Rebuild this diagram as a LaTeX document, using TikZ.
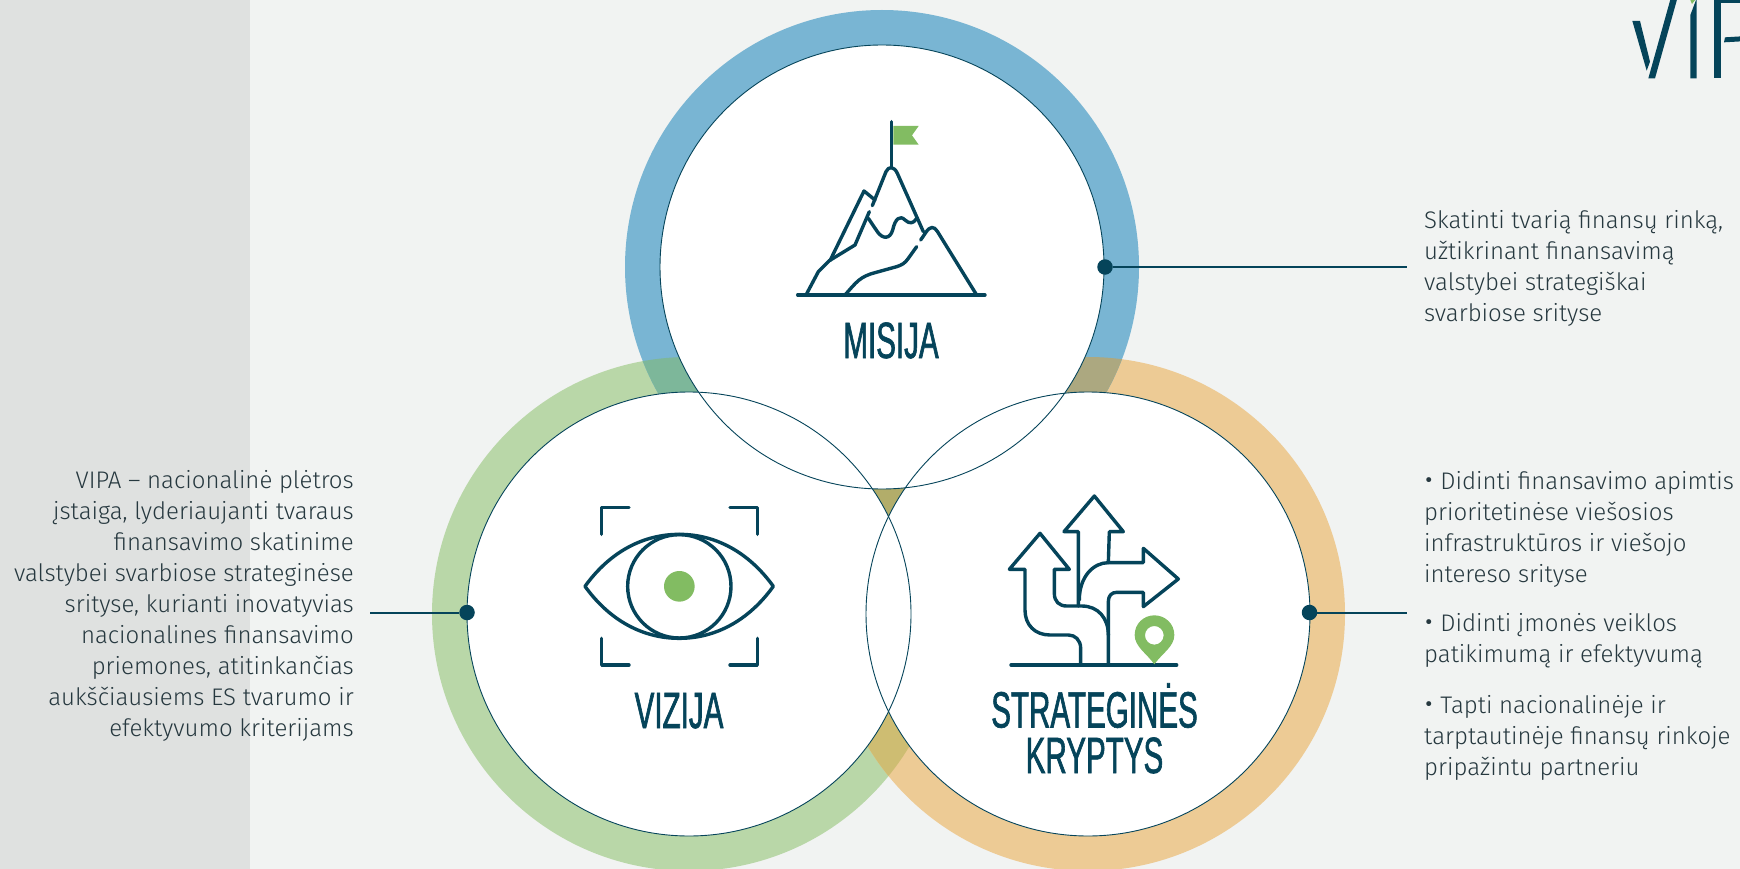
\documentclass[tikz,border=0pt]{standalone}
\usepackage{fontspec}
\setmainfont{Fira Sans Light}
\newfontfamily\condfont[FakeStretch=0.58,FakeBold=1.2]{Liberation Sans}
\definecolor{ink}{HTML}{05445A}
\definecolor{txt}{HTML}{26383F}
\definecolor{bgc}{HTML}{F1F3F2}
\definecolor{panel}{HTML}{DFE1E0}
\definecolor{ringb}{HTML}{79B5D3}
\definecolor{ringg}{HTML}{B9D7A8}
\definecolor{ringo}{HTML}{EDCB95}
\definecolor{ovbg}{HTML}{7DB79A}
\definecolor{ovbo}{HTML}{ACA880}
\definecolor{ovgo}{HTML}{CEBD72}
\definecolor{ovall}{HTML}{B2AD6A}
\definecolor{accent}{HTML}{82BC62}
\tikzset{
  x=1pt,y=-1pt,
  icon/.style={draw=ink,line width=3.4pt,line cap=round,line join=round},
  thin circle/.style={draw=ink,line width=0.9pt},
  dotnode/.style={circle,fill=ink,inner sep=0pt,minimum size=15.5pt},
  lead/.style={draw=ink,line width=2pt},
  title/.style={text=ink,font=\condfont\fontsize{51}{45.5}\selectfont,align=center,anchor=base,inner sep=0pt},
  bodyr/.style={text=txt,font=\fontsize{24}{31}\selectfont,align=left,anchor=base west,inner sep=0pt},
  bodyl/.style={text=txt,font=\fontsize{24}{31}\selectfont,align=right,anchor=base east,inner sep=0pt},
}
\newcommand{\topdisc}[1]{(882,267) circle[radius=#1]}
\newcommand{\leftdisc}[1]{(689,614) circle[radius=#1]}
\newcommand{\rightdisc}[1]{(1088,614) circle[radius=#1]}
\newcommand{\bul}{\raisebox{-2pt}{\fontsize{33}{31}\selectfont •}}
\begin{document}
\begin{tikzpicture}
\useasboundingbox (0,0) rectangle (1740,869);
\clip (0,0) rectangle (1740,869);
\fill[bgc] (0,0) rectangle (1740,869);
\fill[panel] (0,0) rectangle (250,869);
% outer rings
\fill[ringg] \leftdisc{257};
\fill[ringo] \rightdisc{257};
\fill[ringb] \topdisc{257};
\begin{scope}\clip \topdisc{257}; \fill[ovbg] \leftdisc{257}; \fill[ovbo] \rightdisc{257}; \end{scope}
\begin{scope}\clip \leftdisc{257}; \fill[ovgo] \rightdisc{257}; \end{scope}
\begin{scope}\clip \topdisc{257}; \clip \leftdisc{257}; \fill[ovall] \rightdisc{257}; \end{scope}
% white discs
\fill[white] \topdisc{222};
\fill[white] \leftdisc{222};
\fill[white] \rightdisc{222};
\draw[thin circle] \topdisc{222};
\draw[thin circle] \leftdisc{222};
\draw[thin circle] \rightdisc{222};
% logo
\begin{scope}[shift={(1600,0)},scale=1/3]
\fill[ink] (97,63)--(120,63)--(150,185)--(140,212)--cycle;
\fill[ink] (212,-5)--(232,-5)--(165,235)--(145,235)--cycle;
\fill[ink] (271,45)--(290,-5)--(290,235)--(271,235)--cycle;
\fill[accent] (270,-2)--(287,-2)--(276,12)--cycle;
\fill[ink] (343,-5)--(363,-5)--(363,235)--(343,235)--cycle;
\fill[ink] (363,-5)--(425,-5)--(425,9)--(363,9)--cycle;
\fill[ink] (375,112)--(425,109)--(425,124)--(372,127)--cycle;
\end{scope}
% mountain
\begin{scope}[shift={(760,90)},scale=1/3]
\fill[accent] (400,108)--(476,108)--(456,136)--(476,164)--(400,164)--cycle;
\draw[icon] (394,95)--(394,230);
\draw[icon] (337,347)--(378,245) .. controls (386,228) and (402,228) .. (412,250)--(490,425);
\draw[icon] (210,512)--(312,303)--(345,330);
\draw[icon] (328,365)--(285,465)--(208,512)--(175,545)--(138,615);
\draw[icon] (325,385)--(352,425) .. controls (368,448) and (390,448) .. (398,420) .. controls (406,385) and (420,375) .. (435,390) .. controls (448,402) and (460,402) .. (470,385);
\draw[icon] (482,450)--(497,428) .. controls (510,408) and (522,408) .. (532,424)--(650,615);
\draw[icon] (470,470)--(445,505) .. controls (435,520) and (425,525) .. (410,530)--(345,548) .. controls (300,560) and (290,575) .. (255,615);
\draw[icon] (113,615)--(675,615);
\end{scope}
% eye
\begin{scope}[shift={(560,480)},scale=1/3]
\fill[accent] (358,319) circle[radius=46];
\draw[icon] (358,319) circle[radius=155];
\draw[icon] (75,319) .. controls (150,215) and (250,163) .. (358,163) .. controls (465,163) and (565,215) .. (640,319) .. controls (565,423) and (465,475) .. (358,475) .. controls (250,475) and (150,423) .. (75,319) -- cycle;
\draw[icon] (125,163)--(125,82)--(207,82);
\draw[icon] (510,82)--(592,82)--(592,163);
\draw[icon] (125,475)--(125,555)--(207,555);
\draw[icon] (510,555)--(592,555)--(592,475);
\end{scope}
% arrows
\begin{scope}[shift={(970,480)},scale=1/3]
\draw[icon] (332,553)--(332,505) .. controls (332,480) and (315,465) .. (295,465)--(240,465) .. controls (195,465) and (165,435) .. (165,390)--(165,268)--(118,268)--(210,160)--(298,268)--(253,268)--(253,340) .. controls (253,365) and (268,378) .. (290,378)--(335,378) .. controls (385,378) and (415,415) .. (415,465)--(415,553);
\draw[icon] (325,378)--(325,155)--(282,155)--(373,48)--(460,155)--(418,155)--(415,248);
\draw[icon] (328,360) .. controls (328,290) and (370,248) .. (415,248)--(520,248)--(520,205)--(625,297)--(520,380)--(520,337)--(440,337) .. controls (425,337) and (415,347) .. (415,365)--(415,465);
\draw[icon] (123,555)--(620,555);
\fill[accent,even odd rule] (553,553) .. controls (530,520) and (494,500) .. (494,465) .. controls (494,430) and (522,406) .. (553,406) .. controls (584,406) and (613,430) .. (613,465) .. controls (613,500) and (576,520) .. (553,553) -- cycle (553,466) circle[radius=28];
\end{scope}
% titles
\node[title] (misija) at (891,358) {MISIJA};
\node[title] (vizija) at (679,728) {VIZIJA};
\node[title] (strat) at (1094.5,773) {STRATEGINĖS\\KRYPTYS};
% connectors
\node[dotnode] (dt) at (1105,267) {};
\node[dotnode] (dl) at (467,612.5) {};
\node[dotnode] (dr) at (1309.5,612.5) {};
\coordinate (et) at (1407,267);
\coordinate (el) at (369.5,612.5);
\coordinate (er) at (1407,612.5);
\draw[lead] (dt) -- (et);
\draw[lead] (dl) -- (el);
\draw[lead] (dr) -- (er);
% texts
\node[bodyr] (t1) at (1424,321) {Skatinti tvarią finansų rinką,\\užtikrinant finansavimą\\valstybei strategiškai\\svarbiose srityse};
\node[bodyl] (t2) at (354,736) {VIPA – nacionalinė plėtros\\įstaiga, lyderiaujanti tvaraus\\finansavimo skatinime\\valstybei svarbiose strateginėse\\srityse, kurianti inovatyvias\\nacionalines finansavimo\\priemones, atitinkančias\\aukščiausiems ES tvarumo ir\\efektyvumo kriterijams};
\node[bodyr] (t3) at (1424,582) {\bul{} Didinti finansavimo apimtis\\prioritetinėse viešosios\\infrastruktūros ir viešojo\\intereso srityse};
\node[bodyr] (t4) at (1424,662) {\bul{} Didinti įmonės veiklos\\patikimumą ir efektyvumą};
\node[bodyr] (t5) at (1424,775) {\bul{} Tapti nacionalinėje ir\\tarptautinėje finansų rinkoje\\pripažintu partneriu};
\end{tikzpicture}
\end{document}
